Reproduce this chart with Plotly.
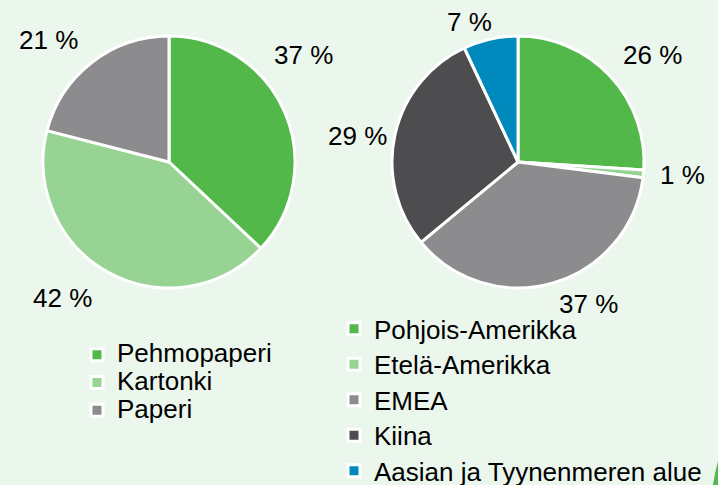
import plotly.graph_objects as go

# Left pie: grade mix
grades = ["Pehmopaperi", "Kartonki", "Paperi"]
grade_share = [37, 42, 21]

# Right pie: regional mix
regions = ["Pohjois-Amerikka", "Etelä-Amerikka", "EMEA", "Kiina", "Aasian ja Tyynenmeren alue"]
region_share = [26, 1, 37, 29, 7]

GREEN = "#53B84A"
LIGHT_GREEN = "#97D494"
GREY = "#8C8C8E"
DARK = "#4D4D4F"
BLUE = "#0089BC"
BG = "#EBF6EC"

grade_colors = [GREEN, LIGHT_GREEN, GREY]
region_colors = [GREEN, LIGHT_GREEN, GREY, DARK, BLUE]

W, H = 718, 485
FONT = "Arial, Liberation Sans, sans-serif"
TEXT_SIZE = 26


def px(x, y):
    """Pixel position -> paper coordinates."""
    return x / W, 1 - y / H


def legend_label(name):
    return f"<span style='font-size:{TEXT_SIZE}px'>{name}</span>"


fig = go.Figure()

fig.add_trace(go.Pie(
    labels=[legend_label(g) for g in grades],
    values=grade_share,
    marker=dict(colors=grade_colors, line=dict(color="white", width=3)),
    sort=False, direction="clockwise", rotation=0,
    textinfo="none", hoverinfo="label+percent",
    domain=dict(x=[43 / W, 295 / W], y=[1 - 288 / H, 1 - 36 / H]),
    legend="legend",
))

fig.add_trace(go.Pie(
    labels=[legend_label(r) for r in regions],
    values=region_share,
    marker=dict(colors=region_colors, line=dict(color="white", width=3)),
    sort=False, direction="clockwise", rotation=0,
    textinfo="none", hoverinfo="label+percent",
    domain=dict(x=[392 / W, 644 / W], y=[1 - 288 / H, 1 - 36 / H]),
    legend="legend2",
))

# Percentage labels around each pie
grade_label_pos = [(303, 55), (62, 298), (48, 40)]
region_label_pos = [(652, 55), (682, 175), (588, 304), (357, 136), (469, 22)]

annotations = []
for vals, positions in ((grade_share, grade_label_pos), (region_share, region_label_pos)):
    for v, (x, y) in zip(vals, positions):
        ax, ay = px(x, y)
        annotations.append(dict(
            x=ax, y=ay, xref="paper", yref="paper",
            text=f"{v} %", showarrow=False,
            xanchor="center", yanchor="middle",
            font=dict(family=FONT, size=TEXT_SIZE, color="#000000"),
        ))

# Corner accent
x0, y0 = px(718, 461)
x1, y1 = px(713, 485)
xc, yc = px(715, 472)
corner = dict(
    type="path", xref="paper", yref="paper",
    path=f"M {x0} {y0} Q {xc} {yc} {x1} {y1} L 1 0 Z",
    fillcolor=GREEN, line=dict(width=0), layer="above",
)

lx, ly = px(77, 336)
rx, ry = px(334, 306)

fig.update_layout(
    width=W, height=H,
    margin=dict(l=0, r=0, t=0, b=0, autoexpand=False),
    paper_bgcolor=BG, plot_bgcolor=BG,
    font=dict(family=FONT, color="#000000"),
    annotations=annotations,
    shapes=[corner],
    legend=dict(
        x=lx, y=ly, xanchor="left", yanchor="top",
        bgcolor="rgba(0,0,0,0)", borderwidth=0,
        font=dict(family=FONT, size=19, color="#000000"),
        traceorder="normal",
    ),
    legend2=dict(
        x=rx, y=ry, xanchor="left", yanchor="top",
        bgcolor="rgba(0,0,0,0)", borderwidth=0,
        font=dict(family=FONT, size=25, color="#000000"),
        traceorder="normal",
    ),
)

fig.write_html("out.html")
